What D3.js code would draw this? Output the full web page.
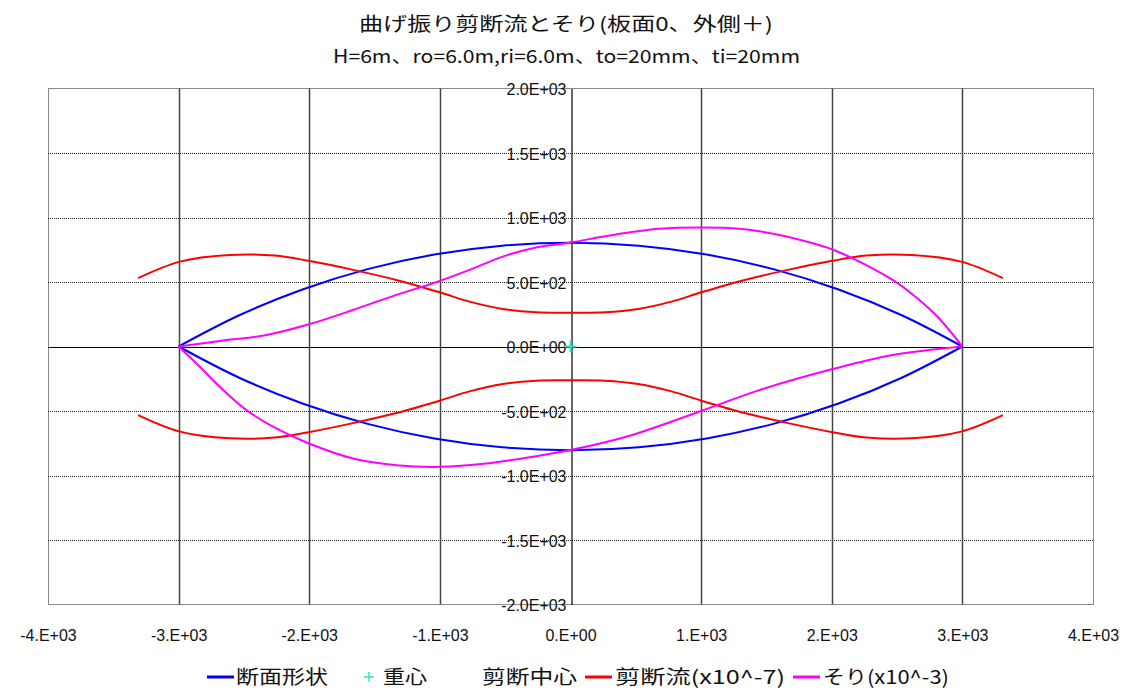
<!DOCTYPE html>
<html>
<head>
<meta charset="utf-8">
<script src="https://cdn.jsdelivr.net/npm/d3@7"></script>
<style>
  html, body { margin: 0; padding: 0; background: #fff; }
  svg { display: block; }
  .tick text { font-family: 'Liberation Sans', Arial, sans-serif; font-size: 17px; fill: #111; }
</style>
</head>
<body>
<svg id="chart" width="1136" height="691"></svg>
<script>
// ---- chart text ----
const titleLine1 = "曲げ振り剪断流とそり(板面0、外側＋)";
const titleLine2 = "H=6m、ro=6.0m,ri=6.0m、to=20mm、ti=20mm";

// ---- axis ticks ----
const xTicks = [-4000, -3000, -2000, -1000, 0, 1000, 2000, 3000, 4000];
const xTickLabels = ["-4.E+03", "-3.E+03", "-2.E+03", "-1.E+03", "0.E+00", "1.E+03", "2.E+03", "3.E+03", "4.E+03"];
const yTicks = [-2000, -1500, -1000, -500, 0, 500, 1000, 1500, 2000];
const yTickLabels = ["-2.0E+03", "-1.5E+03", "-1.0E+03", "-5.0E+02", "0.0E+00", "5.0E+02", "1.0E+03", "1.5E+03", "2.0E+03"];

// ---- 断面形状 (section outline, upper and lower plates) ----
const sectionUpperX = [-3000, -2536, -2052, -1553, -1042, -523, 0, 523, 1042, 1553, 2052, 2536, 3000];
const sectionUpperY = [0, 242, 442, 600, 713, 781, 804, 781, 713, 600, 442, 242, 0];
const sectionLowerX = [-3000, -2536, -2052, -1553, -1042, -523, 0, 523, 1042, 1553, 2052, 2536, 3000];
const sectionLowerY = [0, -242, -442, -600, -713, -781, -804, -781, -713, -600, -442, -242, 0];

// ---- 重心 (centroid) ----
const centroidX = [0];
const centroidY = [0];

// ---- 剪断流 ×10^-7 (shear flow, drawn off each plate) ----
const shearUpperX = [-3310, -2990, -2610, -2265, -2005, -1665, -1334, -1002, -773, -518, -263, 0,
                     263, 518, 773, 1002, 1334, 1665, 2005, 2265, 2610, 2990, 3310];
const shearUpperY = [530, 658, 710, 705, 664, 594, 516, 420, 348, 291, 265, 262,
                     265, 291, 348, 420, 516, 594, 664, 705, 710, 658, 530];
const shearLowerX = [-3310, -2990, -2610, -2265, -2005, -1665, -1334, -1002, -773, -518, -263, 0,
                     263, 518, 773, 1002, 1334, 1665, 2005, 2265, 2610, 2990, 3310];
const shearLowerY = [-532, -660, -712, -706, -664, -594, -516, -420, -348, -291, -265, -262,
                     -265, -291, -348, -420, -516, -594, -664, -706, -712, -660, -532];

// ---- そり ×10^-3 (warping) ----
const warpUpperX = [-3000, -2685, -2328, -2002, -1665, -1334, -1053, -773, -518, -263, 0,
                    298, 681, 1005, 1293, 1599, 1854, 2000, 2211, 2466, 2593, 2797, 3000];
const warpUpperY = [0, 43, 89, 172, 283, 400, 490, 594, 697, 767, 806,
                    860, 912, 922, 912, 865, 801, 754, 658, 516, 425, 244, 0];
const warpLowerX = [-3000, -2838, -2685, -2481, -2252, -2002, -1665, -1334, -995, -645, -263, 0,
                    426, 1005, 1446, 2000, 2466, 3000];
const warpLowerY = [0, -157, -312, -493, -635, -752, -868, -920, -933, -907, -850, -803,
                    -700, -498, -338, -177, -66, 0];

// ---- legend ----
const legendNames = ["断面形状", "重心", "剪断中心", "剪断流(x10^-7)", "そり(x10^-3)"];
const legendColors = ["#0000ff", "#33e6c0", "#ffffff", "#ff0000", "#ff00ff"];
const legendKinds = ["line", "plus", "none", "line", "line"];

// ---- layout ----
const svg = d3.select("#chart");
const plot = { left: 48, right: 1093, top: 88.5, bottom: 604.5 };

const x = d3.scaleLinear().domain([-4000, 4000]).range([plot.left, plot.right]);
const y = d3.scaleLinear().domain([-2000, 2000]).range([plot.bottom, plot.top]);

const cjkFont = "'Noto Sans CJK JP', 'Noto Sans', sans-serif";

// titles
svg.append("text")
  .attr("x", 359).attr("y", 31)
  .attr("textLength", 414).attr("lengthAdjust", "spacingAndGlyphs")
  .style("font-family", cjkFont).style("font-size", "19px").attr("fill", "#111")
  .text(titleLine1);
svg.append("text")
  .attr("x", 333).attr("y", 63)
  .attr("textLength", 467).attr("lengthAdjust", "spacingAndGlyphs")
  .style("font-family", cjkFont).style("font-size", "18px").attr("fill", "#111")
  .text(titleLine2);

const g = svg.append("g");

// plot area frame
g.append("rect")
  .attr("x", plot.left + 0.5).attr("y", plot.top)
  .attr("width", plot.right - plot.left).attr("height", plot.bottom - plot.top)
  .attr("fill", "#fff").attr("stroke", "#8a8a8a").attr("stroke-width", 1);

// horizontal dotted gridlines
g.selectAll("line.hgrid")
  .data(yTicks.filter(v => v !== 0 && Math.abs(v) !== 2000))
  .join("line").attr("class", "hgrid")
  .attr("x1", plot.left).attr("x2", plot.right)
  .attr("y1", d => Math.round(y(d)) + 0.5).attr("y2", d => Math.round(y(d)) + 0.5)
  .attr("stroke", "#222").attr("stroke-width", 1).attr("stroke-dasharray", "1,1");

// vertical solid gridlines
g.selectAll("line.vgrid")
  .data(xTicks.filter(v => v !== 0 && Math.abs(v) !== 4000))
  .join("line").attr("class", "vgrid")
  .attr("x1", d => Math.round(x(d)) + 0.5).attr("x2", d => Math.round(x(d)) + 0.5)
  .attr("y1", plot.top).attr("y2", plot.bottom)
  .attr("stroke", "#444").attr("stroke-width", 1.5);

// axes through the origin
g.append("line")
  .attr("x1", plot.left).attr("x2", plot.right)
  .attr("y1", Math.round(y(0)) + 0.5).attr("y2", Math.round(y(0)) + 0.5)
  .attr("stroke", "#000").attr("stroke-width", 1.2);

const yAxis = d3.axisLeft(y)
  .tickValues(yTicks)
  .tickFormat((d, i) => yTickLabels[i])
  .tickSize(0).tickPadding(5);
const yAxisG = g.append("g")
  .attr("transform", `translate(${Math.round(x(0)) + 0.5},0)`)
  .call(yAxis)
  .attr("font-size", null).attr("font-family", null);
yAxisG.select(".domain").attr("stroke", "#000").attr("stroke-width", 1.2);
yAxisG.selectAll("text").attr("dy", "0.37em");

const xAxis = d3.axisBottom(x)
  .tickValues(xTicks)
  .tickFormat((d, i) => xTickLabels[i])
  .tickSize(0).tickPadding(24);
const xAxisG = g.append("g")
  .attr("transform", `translate(0,${plot.bottom})`)
  .call(xAxis)
  .attr("font-size", null).attr("font-family", null);
xAxisG.select(".domain").remove();

// slightly narrowed numerals
g.selectAll(".tick text").each(function () {
  const w = this.getComputedTextLength();
  d3.select(this).attr("textLength", w * 0.94).attr("lengthAdjust", "spacingAndGlyphs");
});

// series
const toPoints = (xs, ys) => xs.map((v, i) => [v, ys[i]]);
const smooth = d3.line().x(d => x(d[0])).y(d => y(d[1])).curve(d3.curveCatmullRom.alpha(0.5));

const series = [
  { pts: toPoints(sectionUpperX, sectionUpperY), color: legendColors[0] },
  { pts: toPoints(sectionLowerX, sectionLowerY), color: legendColors[0] },
  { pts: toPoints(shearUpperX, shearUpperY), color: legendColors[3] },
  { pts: toPoints(shearLowerX, shearLowerY), color: legendColors[3] },
  { pts: toPoints(warpUpperX, warpUpperY), color: legendColors[4] },
  { pts: toPoints(warpLowerX, warpLowerY), color: legendColors[4] }
];
g.selectAll("path.series")
  .data(series)
  .join("path").attr("class", "series")
  .attr("d", d => smooth(d.pts))
  .attr("fill", "none")
  .attr("stroke", d => d.color)
  .attr("stroke-width", 2)
  .attr("stroke-linejoin", "round");

// centroid marker
const plusPath = (cx, cy, r) => `M${cx - r},${cy}H${cx + r}M${cx},${cy - r}V${cy + r}`;
g.selectAll("path.centroid")
  .data(toPoints(centroidX, centroidY))
  .join("path").attr("class", "centroid")
  .attr("d", d => plusPath(x(d[0]), y(d[1]), 6))
  .attr("stroke", legendColors[1]).attr("stroke-width", 2);

// legend
const legendItems = [
  { markX: 220, textX: 236, textLen: 92 },
  { markX: 369, textX: 383, textLen: 44 },
  { markX: 468, textX: 482, textLen: 95 },
  { markX: 598, textX: 615, textLen: 170 },
  { markX: 806, textX: 823, textLen: 126 }
];
const legendY = 677;
const legend = svg.append("g");
legendItems.forEach((it, i) => {
  const kind = legendKinds[i];
  if (kind === "line") {
    legend.append("line")
      .attr("x1", it.markX - 13).attr("x2", it.markX + 14)
      .attr("y1", legendY).attr("y2", legendY)
      .attr("stroke", legendColors[i]).attr("stroke-width", 3);
  } else if (kind === "plus") {
    legend.append("path")
      .attr("d", plusPath(it.markX, legendY, 5))
      .attr("stroke", legendColors[i]).attr("stroke-width", 1.5);
  }
  legend.append("text")
    .attr("x", it.textX).attr("y", legendY + 7)
    .attr("textLength", it.textLen).attr("lengthAdjust", "spacingAndGlyphs")
    .style("font-family", cjkFont).style("font-size", "19px").attr("fill", "#111")
    .text(legendNames[i]);
});
</script>
</body>
</html>
